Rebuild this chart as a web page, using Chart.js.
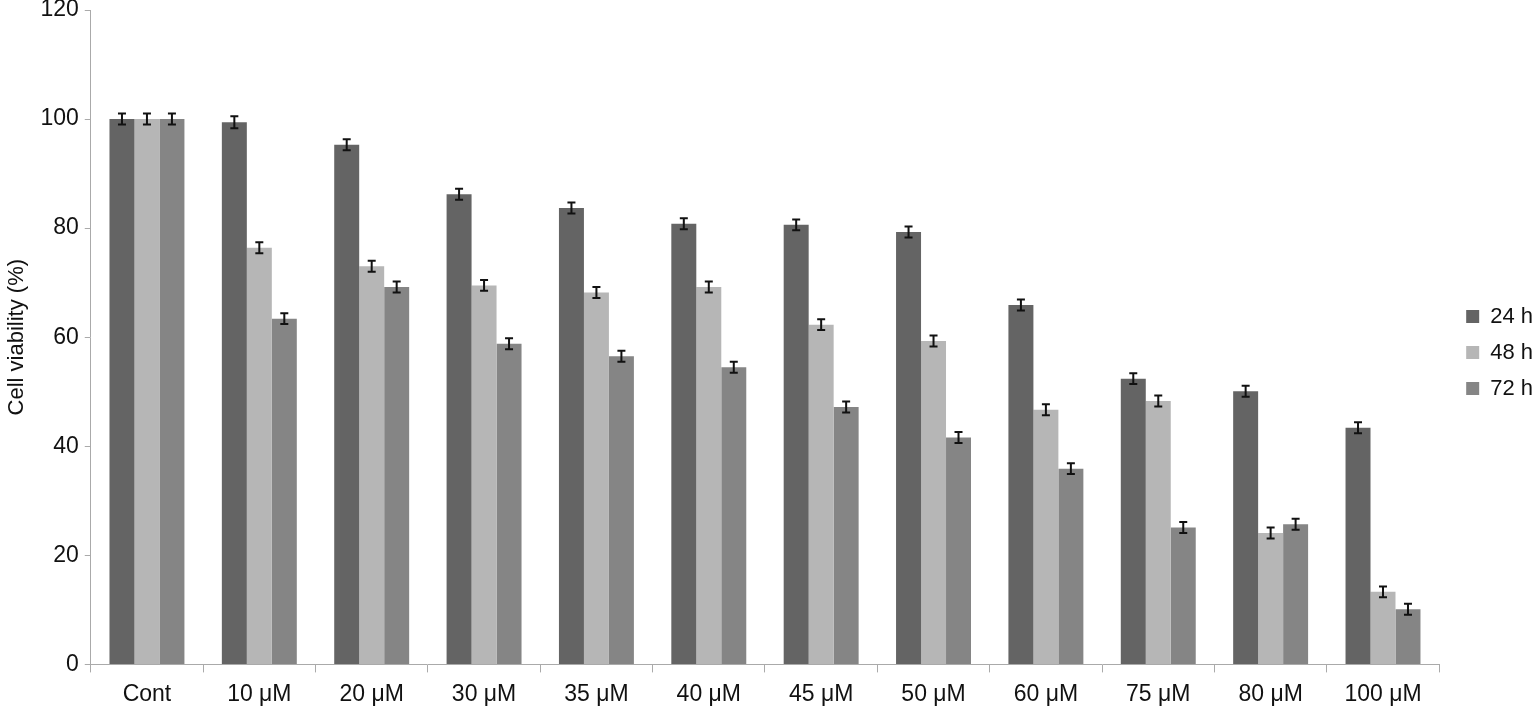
<!DOCTYPE html>
<html>
<head>
<meta charset="utf-8">
<script src="https://cdn.jsdelivr.net/npm/chart.js@4"></script>
<style>
  html, body { margin: 0; padding: 0; background: #fff; }
  #wrap { width: 1536px; height: 709px; }
</style>
</head>
<body>
<div id="wrap"><canvas id="viabilityChart" width="1536" height="709"></canvas></div>
<script>
// cell viability data
const categories = ['Cont', '10 μM', '20 μM', '30 μM', '35 μM', '40 μM', '45 μM', '50 μM', '60 μM', '75 μM', '80 μM', '100 μM'];
const seriesNames = ['24 h', '48 h', '72 h'];
const values24 = [100, 99.4, 95.3, 86.2, 83.7, 80.8, 80.6, 79.3, 65.9, 52.4, 50.1, 43.4];
const values48 = [100, 76.4, 73.0, 69.5, 68.2, 69.2, 62.3, 59.3, 46.7, 48.3, 24.1, 13.3];
const values72 = [100, 63.4, 69.2, 58.8, 56.5, 54.5, 47.2, 41.6, 35.9, 25.1, 25.7, 10.1];
const errors24 = [1.0, 1.1, 1.0, 1.0, 1.0, 1.0, 1.0, 1.0, 1.0, 1.0, 1.0, 1.0];
const errors48 = [1.0, 1.0, 1.0, 1.0, 1.0, 1.0, 1.0, 1.0, 1.0, 1.0, 1.0, 1.0];
const errors72 = [1.0, 1.0, 1.0, 1.0, 1.0, 1.0, 1.0, 1.0, 1.0, 1.0, 1.0, 1.0];
const yTicks = [0, 20, 40, 60, 80, 100, 120];

const errorBars = {
  id: 'errorBars',
  afterDatasetsDraw(chart) {
    const ctx = chart.ctx;
    const yScale = chart.scales.y;
    ctx.save();
    ctx.strokeStyle = '#111';
    ctx.lineWidth = 2;
    chart.data.datasets.forEach((ds, i) => {
      const meta = chart.getDatasetMeta(i);
      meta.data.forEach((bar, j) => {
        const v = ds.data[j];
        const e = ds.errors[j];
        const top = yScale.getPixelForValue(v + e);
        const bottom = yScale.getPixelForValue(v - e);
        const x = bar.x;
        ctx.beginPath();
        ctx.moveTo(x, top); ctx.lineTo(x, bottom);
        ctx.moveTo(x - 4, top); ctx.lineTo(x + 4, top);
        ctx.moveTo(x - 4, bottom); ctx.lineTo(x + 4, bottom);
        ctx.stroke();
      });
    });
    ctx.restore();
  }
};

// nudge the legend a bit away from the plot, like the original
const legendShift = {
  id: 'legendShift',
  afterLayout(chart) {
    chart.legend.left += 13;
    chart.legend.right += 13;
    chart.legend.top -= 7;
    chart.legend.bottom -= 7;
  }
};

document.addEventListener('DOMContentLoaded', () => {
  const ctx = document.getElementById('viabilityChart');
  Chart.defaults.font.family = '"Liberation Sans", Arial, Helvetica, sans-serif';
  Chart.defaults.color = '#111';
  new Chart(ctx, {
    type: 'bar',
    data: {
      labels: categories,
      datasets: [
        { label: seriesNames[0], data: values24, errors: errors24, backgroundColor: '#646464' },
        { label: seriesNames[1], data: values48, errors: errors48, backgroundColor: '#b6b6b6' },
        { label: seriesNames[2], data: values72, errors: errors72, backgroundColor: '#858585' },
      ],
    },
    options: {
      responsive: false,
      animation: false,
      layout: { padding: { top: 10, right: 6, bottom: 0, left: 4 } },
      datasets: {
        bar: { categoryPercentage: 0.667, barPercentage: 1.0, borderWidth: 0 },
      },
      scales: {
        x: {
          afterFit: (axis) => { axis.height -= 7; },
          grid: { offset: true, drawOnChartArea: false, tickLength: 8, color: '#aaa' },
          border: { color: '#aaa' },
          ticks: { font: { size: 23 }, padding: 8, maxRotation: 0 },
        },
        y: {
          min: 0,
          max: 120,
          afterBuildTicks: (axis) => { axis.ticks = yTicks.map(v => ({ value: v })); },
          afterFit: (axis) => { axis.paddingTop = 0; },
          grid: { drawOnChartArea: false, tickLength: 6, color: '#aaa' },
          border: { color: '#aaa' },
          ticks: { font: { size: 23 }, padding: 6 },
          title: { display: true, text: 'Cell viability (%)', font: { size: 22 }, padding: { top: 0, bottom: 4 } },
        },
      },
      plugins: {
        legend: {
          position: 'right',
          labels: { boxWidth: 13, boxHeight: 13, padding: 14, font: { size: 22 }, color: '#111' },
        },
        tooltip: { enabled: false },
      },
    },
    plugins: [errorBars, legendShift],
  });
});
</script>
</body>
</html>
